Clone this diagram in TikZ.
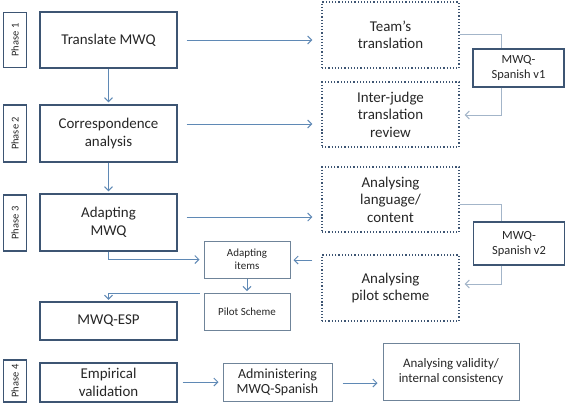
\documentclass[tikz,border=0pt]{standalone}
\usepackage{fontspec}
\setmainfont{Carlito}
\usetikzlibrary{arrows.meta,calc}
\definecolor{boxc}{HTML}{3D5573}
\definecolor{thinc}{HTML}{6F8499}
\definecolor{arrc}{HTML}{5F89B5}
\definecolor{lightc}{HTML}{A3B5C9}
\begin{document}
\begin{tikzpicture}[x=1bp,y=-1bp,
  box/.style={draw=boxc,line width=1.3bp,align=center,inner sep=2bp,text=black!85},
  mainbox/.style={box,minimum width=137bp,font=\fontsize{15}{17.5}\selectfont},
  dotbox/.style={draw=boxc,line width=1.2bp,dotted,align=center,inner sep=2bp,minimum width=137bp,font=\fontsize{15}{17.5}\selectfont,text=black!85},
  phasebox/.style={box,rotate=90,minimum height=23bp,inner sep=1bp,font=\fontsize{10.5}{12}\selectfont},
  verbox/.style={box,minimum width=91bp,font=\fontsize{12.5}{15}\selectfont},
  thinbox/.style={draw=thinc,line width=1bp,align=center,inner sep=2bp,text=black!85},
  arr/.style={draw=arrc,line width=1bp,-{Straight Barb[length=4bp,width=8bp]}},
  larr/.style={draw=lightc,line width=1bp,-{Straight Barb[length=4bp,width=8bp]}},
  lline/.style={draw=lightc,line width=1bp}]
\useasboundingbox (0,0) rectangle (567,405);
% phases
\node[phasebox,minimum width=55bp] (p1) at (15,40) {Phase 1};
\node[phasebox,minimum width=57bp] (p2) at (15,133.5) {Phase 2};
\node[phasebox,minimum width=56bp] (p3) at (15,223) {Phase 3};
\node[phasebox,minimum width=42bp] (p4) at (15,381) {Phase 4};
% main column
\node[mainbox,minimum height=56bp] (t) at (108.5,40) {Translate MWQ};
\node[mainbox,minimum height=57bp] (c) at (108.5,133.5) {Correspondence\\analysis};
\node[mainbox,minimum height=57bp] (a) at (108.5,222.5) {Adapting\\MWQ};
\node[mainbox,minimum height=38bp] (esp) at (108.5,321) {MWQ-ESP};
\node[mainbox,minimum height=39bp] (emp) at (108.5,382.5) {Empirical\\validation};
% dotted column
\node[dotbox,minimum height=66bp] (team) at (390.5,35) {Team’s\\translation};
\node[dotbox,minimum height=65bp] (judge) at (390.5,114.5) {Inter-judge\\translation\\review};
\node[dotbox,minimum height=65bp] (lang) at (390.5,199.5) {Analysing\\language/\\content};
\node[dotbox,minimum height=66bp] (pan) at (390.5,288) {Analysing\\pilot scheme};
% versions
\node[verbox,minimum height=38bp] (v1) at (518.5,68) {MWQ-\\Spanish v1};
\node[verbox,minimum height=43bp] (v2) at (519,243.5) {MWQ-\\Spanish v2};
% small boxes
\node[thinbox,minimum width=86bp,minimum height=37bp,font=\fontsize{11}{13.3}\selectfont] (items) at (247,259.5) {Adapting\\items};
\node[thinbox,minimum width=86bp,minimum height=37bp,font=\fontsize{11}{13.3}\selectfont] (pilot) at (247,311.5) {Pilot Scheme};
\node[thinbox,minimum width=109bp,minimum height=38bp,font=\fontsize{14}{15}\selectfont] (admin) at (277.5,382) {Administering\\MWQ-Spanish};
\node[thinbox,minimum width=136bp,minimum height=57bp,font=\fontsize{13}{15.7}\selectfont] (valid) at (451,371.5) {Analysing validity/\\internal consistency};
% vertical arrows
\draw[arr,shorten >=2bp] (t.south) -- (c.north);
\draw[arr,shorten >=2bp] (c.south) -- (a.north);
% horizontal arrows to dotted column
\draw[arr] ($(t.east)+(9,0)$) -- ($(t.east -| team.west)+(-9,0)$);
\draw[arr] ($(c.east)+(9,-9.5)$) -- ($(c.east -| judge.west)+(-9,-9.5)$);
\draw[arr] ($(a.east)+(9,-5.5)$) -- ($(a.east -| lang.west)+(-9,-5.5)$);
% adapting loop
\draw[arr] (a.south) |- ($(items.west)+(-4,0)$);
\draw[arr,shorten >=1.5bp] (items.south) -- (pilot.north);
\draw[arr] ($(pilot.north west)+(-4,1)$) -| ($(esp.north)+(0,-1.5)$);
\draw[arr] ($(pan.west |- items.east)+(-9,0.5)$) -- ($(items.east)+(3,0.5)$);
% versions
\draw[lline] ($(team.east)+(0,-1)$) -| ($(v1.north)+(-17.5,0)$);
\draw[larr] ($(v1.south)+(-17.5,0)$) |- ($(judge.east)+(5,0.5)$);
\draw[lline] ($(lang.east)+(0,4.5)$) -| ($(v2.north)+(-18,0)$);
\draw[larr] ($(v2.south)+(-18,0)$) |- ($(pan.east)+(5,-4)$);
% phase 4
\draw[arr] ($(emp.east)+(5,-0.5)$) -- ($(admin.west |- emp.east)+(-4,-0.5)$);
\draw[arr] ($(admin.east)+(10,1)$) -- ($(valid.west |- admin.east)+(-5,1)$);
\end{tikzpicture}
\end{document}
